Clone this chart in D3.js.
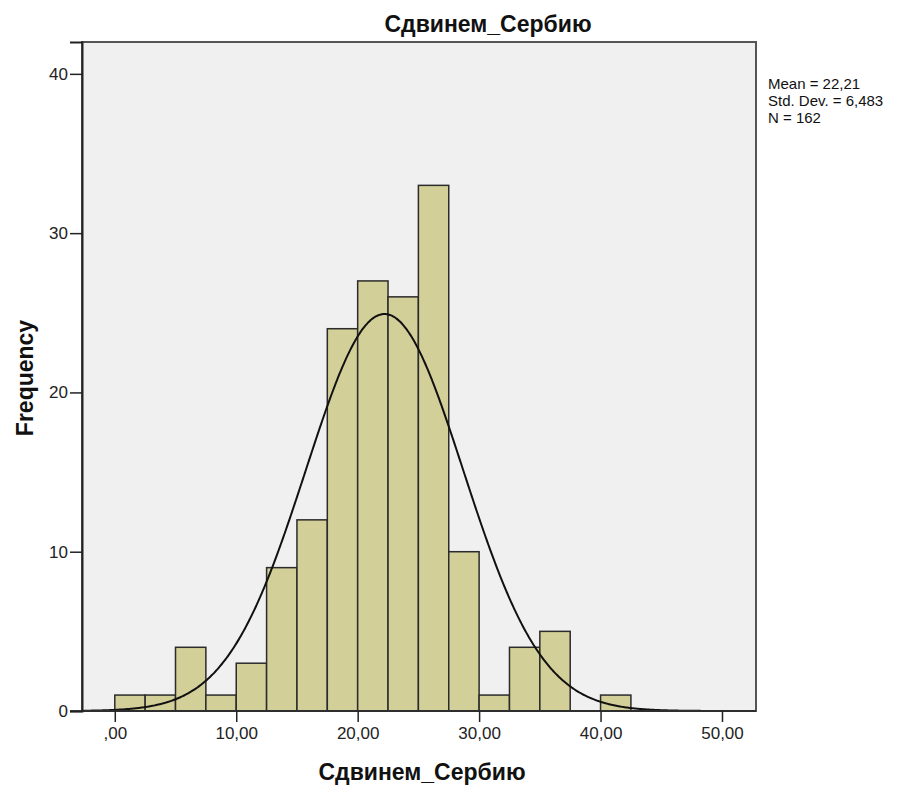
<!DOCTYPE html>
<html>
<head>
<meta charset="utf-8">
<script src="https://cdn.jsdelivr.net/npm/d3@7/dist/d3.min.js"></script>
<style>
  html, body { margin: 0; padding: 0; background: #ffffff; }
  svg { display: block; }
</style>
</head>
<body>
<svg id="chart" width="909" height="791"></svg>
<script>
// ---- Data ----
const binStarts = [0, 2.5, 5, 7.5, 10, 12.5, 15, 17.5, 20, 22.5, 25, 27.5, 30, 32.5, 35, 37.5, 40];
const binWidth = 2.5;
const frequencies = [1, 1, 4, 1, 3, 9, 12, 24, 27, 26, 33, 10, 1, 4, 5, 0, 1];
const xTicks = [0, 10, 20, 30, 40, 50];
const xTickLabels = [",00", "10,00", "20,00", "30,00", "40,00", "50,00"];
const yTicks = [0, 10, 20, 30, 40];
const stats = { mean: 22.21, sd: 6.483, n: 162 };
const statLines = ["Mean = 22,21", "Std. Dev. = 6,483", "N = 162"];
const titleText = "Сдвинем_Сербию";
const xLabel = "Сдвинем_Сербию";
const yLabel = "Frequency";

// ---- Layout ----
const svg = d3.select("#chart");
const plot = { left: 82, right: 756, top: 42, bottom: 711 };

const x = d3.scaleLinear().domain([-2.7, 52.8]).range([plot.left, plot.right]);
const y = d3.scaleLinear().domain([0, 42]).range([plot.bottom, plot.top]);

const font = "'Liberation Sans', Arial, sans-serif";

// plot background
svg.append("rect")
  .attr("x", plot.left).attr("y", plot.top)
  .attr("width", plot.right - plot.left).attr("height", plot.bottom - plot.top)
  .attr("fill", "#f0f0f0");

// bars
const bins = binStarts.map((s, i) => ({ x0: s, x1: s + binWidth, f: frequencies[i] })).filter(d => d.f > 0);
svg.append("g").selectAll("rect").data(bins).join("rect")
  .attr("x", d => x(d.x0))
  .attr("y", d => y(d.f))
  .attr("width", d => x(d.x1) - x(d.x0))
  .attr("height", d => y(0) - y(d.f))
  .attr("fill", "#d3cf98")
  .attr("stroke", "#2b2b2b")
  .attr("stroke-width", 1.5);

// normal curve
const scaleK = stats.n * binWidth / (stats.sd * Math.sqrt(2 * Math.PI));
const curvePts = d3.range(-2.7, 52.8001, 0.1).map(v => [v, scaleK * Math.exp(-0.5 * Math.pow((v - stats.mean) / stats.sd, 2))]);
svg.append("path")
  .datum(curvePts)
  .attr("fill", "none")
  .attr("stroke", "#111")
  .attr("stroke-width", 2)
  .attr("d", d3.line().x(d => x(d[0])).y(d => y(d[1])).curve(d3.curveBasis));

// frame
svg.append("rect")
  .attr("x", plot.left).attr("y", plot.top)
  .attr("width", plot.right - plot.left).attr("height", plot.bottom - plot.top)
  .attr("fill", "none")
  .attr("stroke", "#555")
  .attr("stroke-width", 2);

// y axis
const yAxis = d3.axisLeft(y).tickValues(yTicks).tickSize(12).tickPadding(2).tickFormat(d3.format("d"));
const gy = svg.append("g").attr("transform", `translate(${plot.left},0)`).call(yAxis);
gy.select(".domain").attr("stroke", "#222").attr("stroke-width", 2);
gy.selectAll(".tick line").attr("stroke", "#222").attr("stroke-width", 1.5);
gy.selectAll(".tick text").attr("font-family", font).attr("font-size", 17).attr("fill", "#222");

// x axis
const xAxis = d3.axisBottom(x).tickValues(xTicks).tickSize(11).tickPadding(5).tickFormat((d, i) => xTickLabels[i]);
const gx = svg.append("g").attr("transform", `translate(0,${plot.bottom})`).call(xAxis);
gx.select(".domain").remove();
gx.selectAll(".tick line").attr("stroke", "#222").attr("stroke-width", 1.5);
gx.selectAll(".tick text").attr("font-family", font).attr("font-size", 17).attr("fill", "#222");

// zero baseline extending to the tick
svg.append("line")
  .attr("x1", plot.left - 12).attr("x2", plot.right)
  .attr("y1", y(0)).attr("y2", y(0))
  .attr("stroke", "#222").attr("stroke-width", 1.5);

// title
svg.append("text")
  .attr("x", 488).attr("y", 32)
  .attr("text-anchor", "middle")
  .attr("font-family", font).attr("font-weight", "bold").attr("font-size", 23)
  .attr("fill", "#111")
  .text(titleText);

// x label
svg.append("text")
  .attr("x", 422).attr("y", 780)
  .attr("text-anchor", "middle")
  .attr("font-family", font).attr("font-weight", "bold").attr("font-size", 23)
  .attr("fill", "#111")
  .text(xLabel);

// y label
svg.append("text")
  .attr("transform", `translate(33,378) rotate(-90)`)
  .attr("text-anchor", "middle")
  .attr("font-family", font).attr("font-weight", "bold").attr("font-size", 23)
  .attr("fill", "#111")
  .text(yLabel);

// stats
svg.append("g").selectAll("text").data(statLines).join("text")
  .attr("x", 768)
  .attr("y", (d, i) => 89 + i * 17)
  .attr("font-family", font).attr("font-size", 15)
  .attr("fill", "#111")
  .text(d => d);
</script>
</body>
</html>
